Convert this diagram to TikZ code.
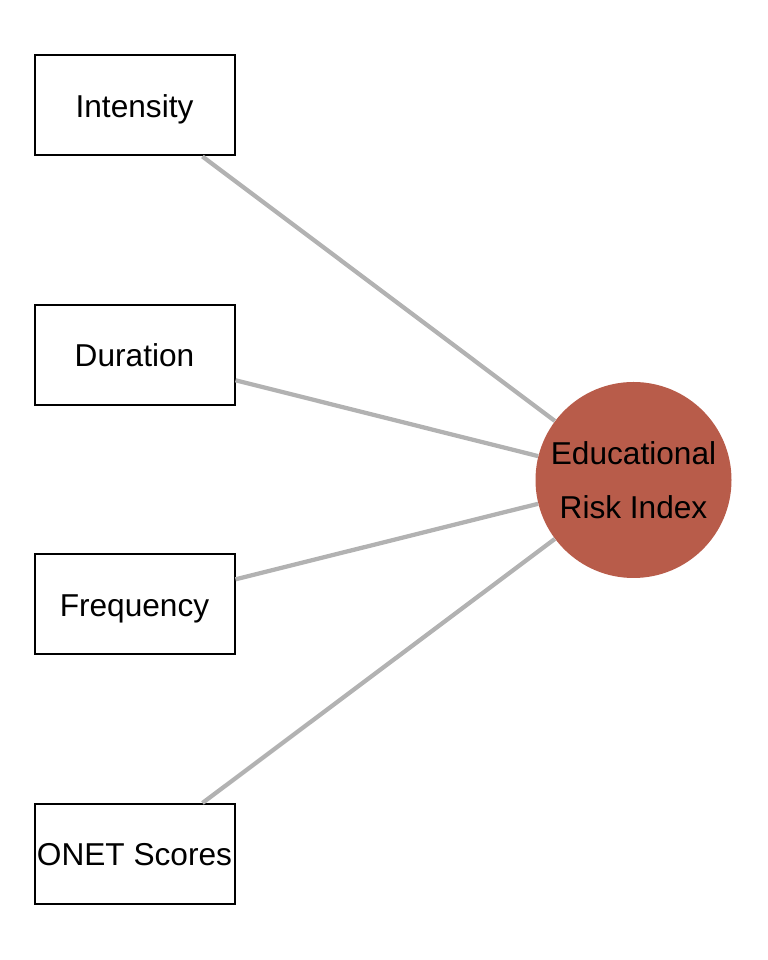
\documentclass[tikz,border=0pt]{standalone}
\usepackage{fontspec}
\setmainfont{Liberation Sans}
\definecolor{riskred}{RGB}{184,92,74}
\definecolor{linkgray}{RGB}{178,178,178}

\begin{document}
\begin{tikzpicture}[
	factor/.style={draw=black, line width=0.04cm, minimum width=4cm, minimum height=2cm,
		inner sep=0pt, text height=13.5pt, text depth=0pt, font=\fontsize{18}{22}\selectfont},
	index/.style={circle, fill=riskred, minimum size=3.92cm, inner sep=0pt, align=center,
		font=\fontsize{18}{31}\selectfont},
	link/.style={draw=linkgray, line width=0.085cm}
	]
	\useasboundingbox (0,0) rectangle (15.36,19.2);

	\node[factor] (intensity) at (2.69,17.09) {Intensity};
	\node[factor] (duration)  at (2.69,12.10) {Duration};
	\node[factor] (frequency) at (2.69,7.11)  {Frequency};
	\node[factor] (onet)      at (2.69,2.12)  {ONET Scores};

	\node[index] (eri) at (12.67,9.60) {Educational\\Risk Index};

	\foreach \src in {intensity,duration,frequency,onet}
		\draw[link] (\src) -- (eri);
\end{tikzpicture}
\end{document}
